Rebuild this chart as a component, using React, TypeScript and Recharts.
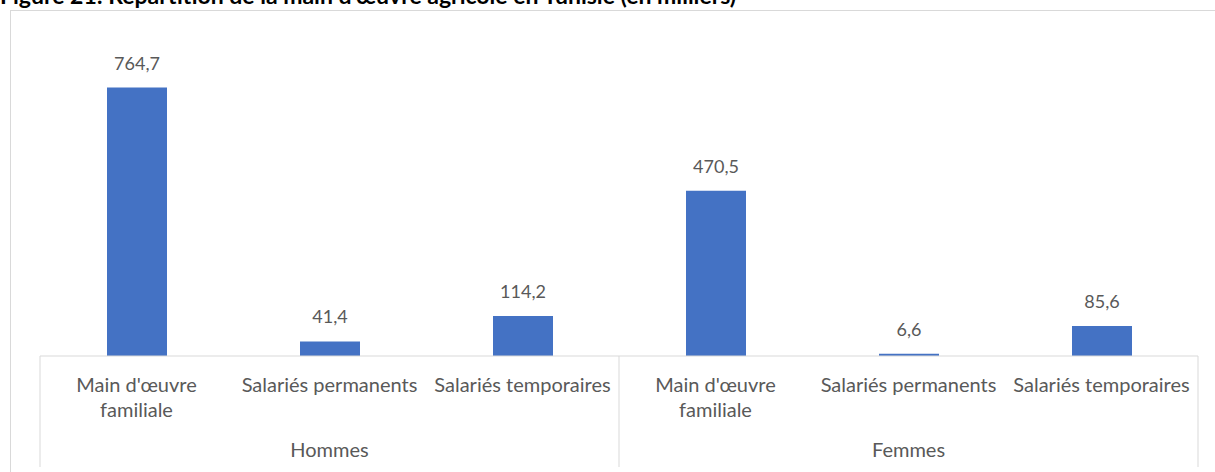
import React from 'react';
import { BarChart, Bar, XAxis, YAxis, LabelList } from 'recharts';

const categories = [
  "Main d'œuvre familiale",
  'Salariés permanents',
  'Salariés temporaires',
  "Main d'œuvre familiale",
  'Salariés permanents',
  'Salariés temporaires',
];
const groups = ['Hommes', 'Hommes', 'Hommes', 'Femmes', 'Femmes', 'Femmes'];
const values = [764.7, 41.4, 114.2, 470.5, 6.6, 85.6];
const yTicks = [0, 900];

const TITLE = "Figure 21: Répartition de la main d'œuvre agricole en Tunisie (en milliers)";

const W = 1215;
const H = 472;
const MARGIN = { top: 40, right: 17, left: 40, bottom: 0 };
const BAND = (W - MARGIN.left - MARGIN.right) / categories.length;
const FONT = 'Lato, "Open Sans", sans-serif';
const TEXT = '#595959';
const GRID = '#D9D9D9';

const data = categories.map((name, i) => ({ name, group: groups[i], value: values[i] }));

// wrap a label the way excel does when it doesn't fit the band
const wrap = (s: string): string[] => {
  const words = s.split(' ');
  const lines: string[] = [];
  let cur = '';
  for (const w of words) {
    const next = cur ? `${cur} ${w}` : w;
    if (next.length > 20 && cur) {
      lines.push(cur);
      cur = w;
    } else {
      cur = next;
    }
  }
  if (cur) lines.push(cur);
  return lines;
};

const CategoryTick = (props: any) => {
  const { x, y, payload } = props;
  const idx = payload.index;
  const lines = wrap(String(payload.value));
  return (
    <g>
      {lines.map((l, i) => (
        <text key={i} x={x} y={y + 36 + i * 25} textAnchor="middle" fill={TEXT} fontSize={20} fontFamily={FONT}>
          {l}
        </text>
      ))}
      {idx % 3 === 0 && <line x1={x - BAND / 2} x2={x - BAND / 2} y1={y} y2={y + 111} stroke={GRID} strokeWidth={1} />}
      {idx === categories.length - 1 && (
        <line x1={x + BAND / 2} x2={x + BAND / 2} y1={y} y2={y + 111} stroke={GRID} strokeWidth={1} />
      )}
    </g>
  );
};

const GroupTick = (props: any) => {
  const { x, y, payload } = props;
  if (payload.index % 3 !== 1) return <g />;
  return (
    <text x={x} y={y + 22} textAnchor="middle" fill={TEXT} fontSize={20} fontFamily={FONT}>
      {payload.value}
    </text>
  );
};

const fmt = (v: any) => Number(v).toFixed(1).replace('.', ',');

export default function App() {
  return (
    <div style={{ position: 'absolute', left: 0, top: 0, width: W, height: H, overflow: 'hidden', background: '#fff' }}>
      <div
        style={{
          position: 'absolute',
          left: 0,
          top: -16,
          fontFamily: FONT,
          fontWeight: 700,
          fontSize: 23,
          lineHeight: '23px',
          whiteSpace: 'nowrap',
          color: '#000',
        }}
      >
        {TITLE}
      </div>
      <div
        style={{
          position: 'absolute',
          left: 10,
          top: 10,
          width: W,
          height: H,
          border: `1px solid ${GRID}`,
        }}
      />
      <div style={{ position: 'absolute', left: 0, top: 0 }}>
        <BarChart width={W} height={H} data={data} margin={MARGIN}>
          <XAxis
            xAxisId="cat"
            dataKey="name"
            height={79}
            interval={0}
            tickSize={0}
            tickMargin={0}
            tickLine={false}
            axisLine={{ stroke: GRID, strokeWidth: 1 }}
            tick={<CategoryTick />}
          />
          <XAxis
            xAxisId="grp"
            dataKey="group"
            height={37}
            interval={0}
            tickSize={0}
            tickMargin={0}
            tickLine={false}
            axisLine={false}
            tick={<GroupTick />}
          />
          <YAxis hide domain={[yTicks[0], yTicks[1]]} ticks={yTicks} />
          <Bar dataKey="value" xAxisId="cat" fill="#4472C4" barSize={60} isAnimationActive={false}>
            <LabelList
              dataKey="value"
              position="top"
              offset={18}
              formatter={fmt}
              fill={TEXT}
              fontSize={18}
              fontFamily={FONT}
            />
          </Bar>
        </BarChart>
      </div>
    </div>
  );
}
